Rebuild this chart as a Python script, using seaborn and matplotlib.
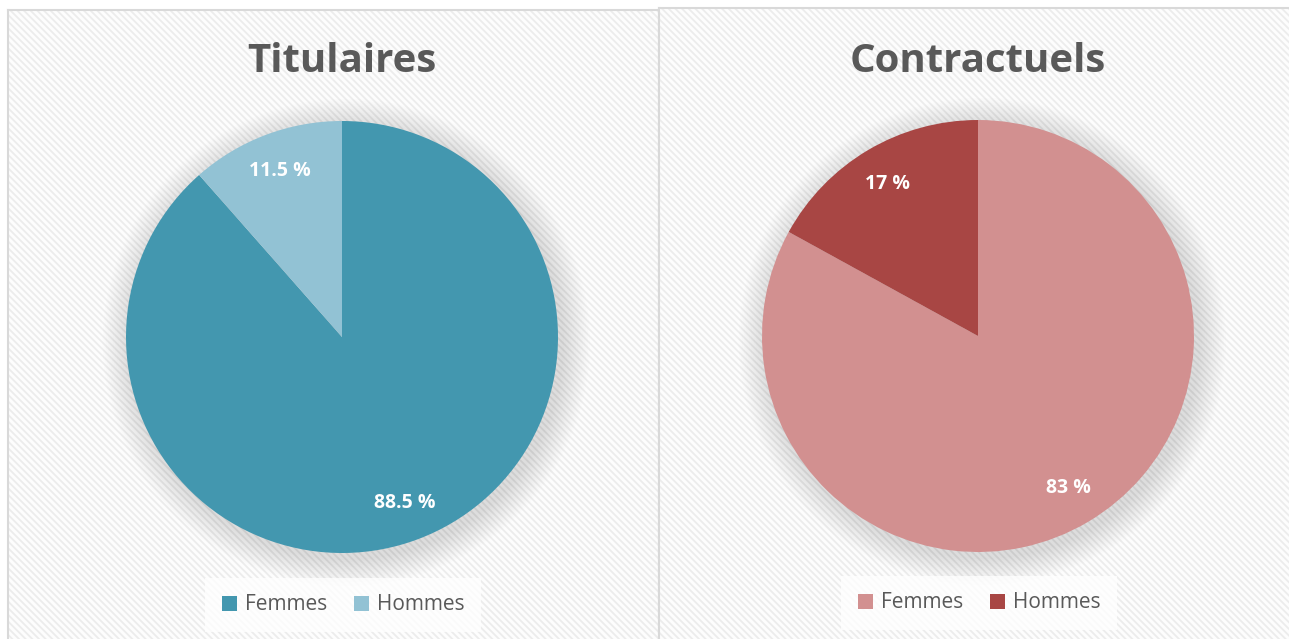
import matplotlib as mpl
import matplotlib.pyplot as plt
import numpy as np
import pandas as pd
import seaborn as sns
from matplotlib.patches import Rectangle, Circle

# données
titres = ['Titulaires', 'Contractuels']
categories = ['Femmes', 'Hommes']
titulaires = [88.5, 11.5]
contractuels = [83, 17]
couleurs_tit = ['#4397AF', '#92C2D4']
couleurs_con = ['#D29090', '#A84644']

sns.set_theme(style='white')
plt.rcParams['font.family'] = ['Open Sans', 'DejaVu Sans']
plt.rcParams['hatch.linewidth'] = 1.3

W, H = 1289, 639
fig = plt.figure(figsize=(W / 100, H / 100), dpi=100)
fig.patch.set_facecolor('white')


def px(x, y, w, h):
    # pixels (origine en haut à gauche) -> coordonnées figure
    return [x / W, 1 - (y + h) / H, w / W, h / H]


# panneaux hachurés
for (x0, y0, x1) in [(8, 10, 659), (659, 8, 1300)]:
    bg = fig.add_axes(px(x0, y0, x1 - x0, H - y0 + 5))
    bg.set_facecolor('#fdfdfd')
    bg.add_patch(Rectangle((0, 0), 1, 1, transform=bg.transAxes, facecolor='#fdfdfd',
                           hatch='\\\\\\\\\\', edgecolor='#ececec', linewidth=0))
    bg.set_xticks([])
    bg.set_yticks([])
    for s in bg.spines.values():
        s.set_color('#d9d9d9')
        s.set_linewidth(1.5)

R = 216
series = [titulaires, contractuels]
couleurs = [couleurs_tit, couleurs_con]
centres = [(342, 337), (978, 336)]
legendes = [(343, 605), (979, 603)]

for i in range(2):
    cx, cy = centres[i]
    half = 270
    ax = fig.add_axes(px(cx - half, cy - half, 2 * half, 2 * half))
    ax.set_facecolor('none')
    df = pd.DataFrame({'genre': categories, 'valeur': series[i]})
    # ombre douce
    for k in range(16):
        ax.add_patch(Circle((0.02, -0.025), 1 + 0.008 * (16 - k), facecolor='#000000',
                            alpha=0.008, linewidth=0, zorder=0))
    wedges, texts, autot = ax.pie(df['valeur'], colors=couleurs[i], startangle=90,
                                  counterclock=False, radius=1, pctdistance=0.82,
                                  autopct=lambda p: f'{round(p, 1):g} %',
                                  wedgeprops=dict(linewidth=0),
                                  textprops=dict(color='white', fontsize=14, fontweight='bold'))
    for w in wedges:
        w.set_zorder(2)
    for t in autot:
        t.set_zorder(3)
    ax.set_xlim(-half / R, half / R)
    ax.set_ylim(-half / R, half / R)
    ax.axis('off')
    fig.text(cx / W, 1 - 62 / H, titres[i], ha='center', va='center', fontsize=29,
             fontweight='bold', color='#595959')
    lx, ly = legendes[i]
    leg = fig.legend(wedges, df['genre'], loc='center', bbox_to_anchor=(lx / W, 1 - ly / H),
                     ncol=2, frameon=True, fontsize=15, handlelength=0.75, handleheight=0.75,
                     handletextpad=0.35, columnspacing=1.3, borderpad=0.5,
                     labelcolor='#595959')
    leg.get_frame().set_facecolor('white')
    leg.get_frame().set_alpha(0.75)
    leg.get_frame().set_linewidth(0)
    leg.get_frame().set_boxstyle('square', pad=0.3)

fig.savefig('out.png', dpi=100)
